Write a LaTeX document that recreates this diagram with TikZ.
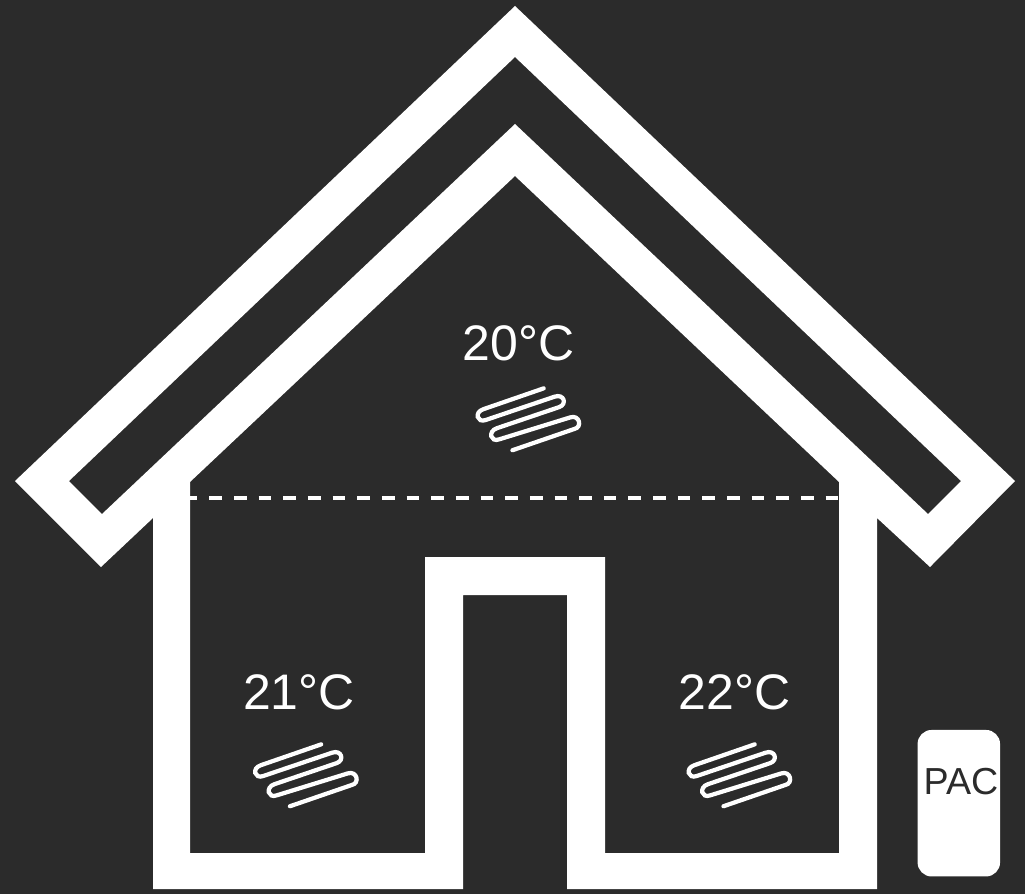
\documentclass[tikz,border=0pt]{standalone}
\usepackage{fontspec}
\setmainfont{Liberation Sans}
\definecolor{bgdark}{HTML}{2B2B2B}
\tikzset{
  coil/.pic={
    \draw[white,line width=1.2pt,line cap=round,xscale=1.04,yscale=1.08] (16,-29.3) -- (-42,-10)
      .. controls (-51,-7.2) and (-48,3) .. (-39.7,0) -- (26.5,-21.6)
      .. controls (35.5,-24.6) and (39,-14.6) .. (30.8,-11.9) -- (-29,7.6)
      .. controls (-38,10.6) and (-35,21) .. (-26.7,17.9) -- (41.5,-2.4)
      .. controls (50.5,-5.3) and (53.5,6.8) .. (45.5,8.3) -- (-14,28);
  },
  templabel/.style={text=white,font=\fontsize{14.2}{16}\selectfont,inner sep=0pt}
}
\begin{document}
\begin{tikzpicture}[x=0.01cm,y=-0.01cm]
    \fill[bgdark] (0,0) rectangle (1025,894);
    \fill[white,even odd rule] (515,6) -- (15,481) -- (101,567) -- (153,518) -- (153,889) -- (463,889) -- (463,595) -- (567,595) -- (567,889) -- (877,889) -- (877,518) -- (930,567) -- (1015,481) -- cycle
      (515,57) -- (69,481) -- (102,514) -- (515,124) -- (928,514) -- (961,481) -- cycle
      (515,176) -- (190,482) -- (190,853) -- (425,853) -- (425,557) -- (605,557) -- (605,853) -- (839,853) -- (839,482) -- cycle;
    \coordinate (dashl) at (190,498);
    \coordinate (dashr) at (839,498);
    \draw[white,line width=1pt,dash pattern=on 3.6pt off 3.41pt,dash phase=1.5pt] (dashl) -- (dashr);
    \node[templabel] (temptop) at (518.5,343) {20°C};
    \node[templabel] (templeft) at (299,692) {21°C};
    \node[templabel] (tempright) at (734.5,692) {22°C};
    \pic at (527,420) {coil};
    \pic at (304.5,776) {coil};
    \pic at (738,776) {coil};
    \node[fill=white,rounded corners=4pt,minimum width=82.5*0.01cm,minimum height=146.5*0.01cm,inner sep=0pt] (pac) at (958.8,803.2) {};
    \node[text=bgdark,font=\fontsize{10.7}{12}\selectfont,inner sep=0pt] (pactext) at (961,782) {PAC};
\end{tikzpicture}
\end{document}
